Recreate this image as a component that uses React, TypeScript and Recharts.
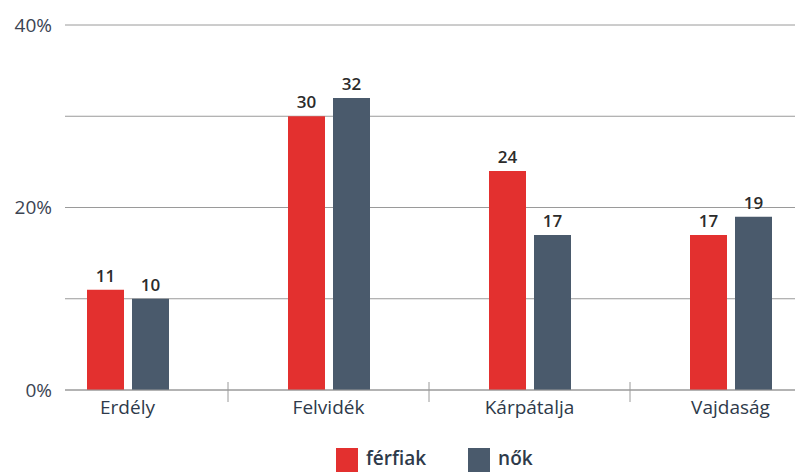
import React from "react";
import {
  BarChart,
  Bar,
  XAxis,
  YAxis,
  CartesianGrid,
  Legend,
  LabelList,
} from "recharts";

const regions = ["Erdély", "Felvidék", "Kárpátalja", "Vajdaság"];
const ferfiak = [11, 30, 24, 17];
const nok = [10, 32, 17, 19];
const yTicks = [0, 10, 20, 30, 40];

const data = regions.map((region, i) => ({
  region,
  ferfiak: ferfiak[i],
  nok: nok[i],
}));

const RED = "#e3302f";
const SLATE = "#4a5a6c";
const INK = "#2e3a4a";
const GRID = "#9a9a9a";
const FONT = "'Open Sans', sans-serif";

const pad = { left: -38, right: -36 };
const LABEL_GAP = 10;

// category label plus the small separator mark on the right edge of its band
function RegionTick(props: any) {
  const { x, y, payload, index, visibleTicksCount } = props;
  const half = payload && payload.offset ? payload.offset : 100.5;
  const axisY = y - LABEL_GAP;
  const last = index >= (visibleTicksCount ?? regions.length) - 1;
  return (
    <g>
      <text
        x={x}
        y={y}
        dy="0.75em"
        textAnchor="middle"
        fontSize={19}
        fill={INK}
        fontFamily={FONT}
      >
        {payload.value}
      </text>
      {!last && (
        <line
          x1={x + half}
          x2={x + half}
          y1={axisY - 8}
          y2={axisY + 12}
          stroke={GRID}
          strokeWidth={1}
        />
      )}
    </g>
  );
}

function LegendContent() {
  const item = (color: string, text: string, gap: number) => (
    <div style={{ display: "flex", alignItems: "flex-start", marginRight: gap }}>
      <div style={{ width: 22, height: 26, background: color, marginRight: 8 }} />
      <span style={{ fontSize: 19, lineHeight: "20px", color: INK, fontWeight: 600 }}>
        {text}
      </span>
    </div>
  );
  return (
    <div style={{ display: "flex", height: 30, paddingTop: 6, boxSizing: "border-box", fontFamily: FONT }}>
      {item(RED, "férfiak", 42)}
      {item(SLATE, "nők", 0)}
    </div>
  );
}

export default function App() {
  return (
    <div style={{ position: "absolute", left: 0, top: 0, width: 795, height: 472, overflow: "hidden", background: "#fff" }}>
      <BarChart
        width={795}
        height={472}
        data={data}
        barSize={37}
        barGap={8}
        margin={{ top: 25, right: 0, left: 0, bottom: 0 }}
      >
        <CartesianGrid vertical={false} stroke={GRID} />
        <XAxis
          dataKey="region"
          padding={pad}
          height={52}
          axisLine={{ stroke: GRID }}
          tickLine={false}
          tickSize={0}
          tickMargin={LABEL_GAP}
          interval={0}
          tick={(p: any) => <RegionTick {...p} />}
        />
        <YAxis
          width={65}
          domain={[0, 40]}
          ticks={yTicks}
          axisLine={false}
          tickLine={false}
          tickSize={0}
          tickMargin={13}
          tickFormatter={(v: number) => (v % 20 === 0 ? `${v}%` : "")}
          tick={{ fontSize: 19, fill: "#3b4452", fontFamily: FONT }}
        />
        <Legend
          verticalAlign="bottom"
          align="left"
          content={<LegendContent />}
          wrapperStyle={{ left: 336, width: 300 }}
        />
        <Bar dataKey="ferfiak" name="férfiak" fill={RED} isAnimationActive={false}>
          <LabelList
            dataKey="ferfiak"
            position="top"
            offset={8}
            style={{ fontSize: 17, fontWeight: 600, fill: "#2b2b2b", fontFamily: FONT }}
          />
        </Bar>
        <Bar dataKey="nok" name="nők" fill={SLATE} isAnimationActive={false}>
          <LabelList
            dataKey="nok"
            position="top"
            offset={8}
            style={{ fontSize: 17, fontWeight: 600, fill: "#2b2b2b", fontFamily: FONT }}
          />
        </Bar>
      </BarChart>
    </div>
  );
}
